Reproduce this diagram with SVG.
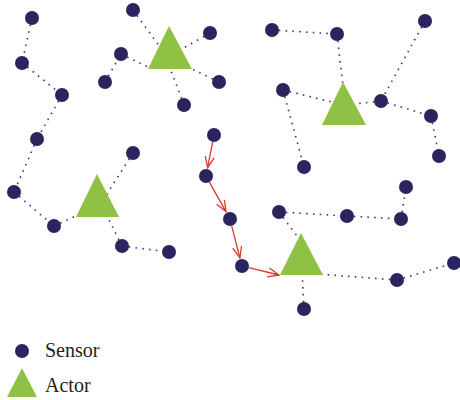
<svg xmlns="http://www.w3.org/2000/svg" width="460" height="400" viewBox="0 0 460 400">
<defs>
<style>
.dot{fill:none;stroke:#3d3a78;stroke-width:1.6;stroke-dasharray:1.6 5.2}
.arr{fill:none;stroke:#d63a2e;stroke-width:1.3;marker-end:url(#ah)}
.s{fill:#2a255f}
.a{fill:#8fc144}
.lbl{font-family:"Liberation Serif","Times New Roman",serif;font-size:20px;fill:#231f20}
</style>
<marker id="ah" markerUnits="userSpaceOnUse" markerWidth="14" markerHeight="12" refX="12" refY="6" orient="auto" viewBox="0 0 14 12">
<path d="M1,1.5 L12,6 L1,10.5" fill="none" stroke="#d63a2e" stroke-width="1.3"/>
</marker>
</defs>
<rect width="460" height="400" fill="#fff"/>
<g id="connectors">
<line class="dot" x1="32" y1="18" x2="22" y2="63"/>
<line class="dot" x1="22" y1="63" x2="62" y2="95"/>
<line class="dot" x1="62" y1="95" x2="37" y2="139"/>
<line class="dot" x1="37" y1="139" x2="14" y2="192"/>
<line class="dot" x1="14" y1="192" x2="54" y2="226"/>
<line class="dot" x1="54" y1="226" x2="80" y2="214"/>
<line class="dot" x1="133" y1="153" x2="105" y2="197"/>
<line class="dot" x1="122" y1="246" x2="105" y2="212"/>
<line class="dot" x1="122" y1="246" x2="169" y2="252"/>
<line class="dot" x1="133" y1="10" x2="160" y2="47"/>
<line class="dot" x1="121" y1="54" x2="150" y2="68"/>
<line class="dot" x1="105" y1="82" x2="121" y2="54"/>
<line class="dot" x1="210" y1="33" x2="180" y2="50"/>
<line class="dot" x1="219" y1="82" x2="190" y2="68"/>
<line class="dot" x1="184" y1="105" x2="170" y2="68"/>
<line class="dot" x1="272" y1="30" x2="337" y2="34"/>
<line class="dot" x1="337" y1="34" x2="343" y2="86"/>
<line class="dot" x1="425" y1="21" x2="381" y2="101"/>
<line class="dot" x1="283" y1="90" x2="336" y2="103"/>
<line class="dot" x1="381" y1="101" x2="355" y2="104"/>
<line class="dot" x1="283" y1="90" x2="304" y2="167"/>
<line class="dot" x1="381" y1="101" x2="431" y2="116"/>
<line class="dot" x1="431" y1="116" x2="439" y2="156"/>
<line class="dot" x1="279" y1="212" x2="347" y2="216"/>
<line class="dot" x1="347" y1="216" x2="401" y2="219"/>
<line class="dot" x1="401" y1="219" x2="406" y2="187"/>
<line class="dot" x1="279" y1="212" x2="300" y2="240"/>
<line class="dot" x1="397" y1="280" x2="318" y2="274"/>
<line class="dot" x1="397" y1="280" x2="454" y2="263"/>
<line class="dot" x1="304" y1="309" x2="302" y2="270"/>
<line class="arr" x1="212.7" y1="141.9" x2="207.6" y2="167.7"/>
<line class="arr" x1="209.4" y1="182.1" x2="225.9" y2="211.6"/>
<line class="arr" x1="231.7" y1="225.8" x2="239.9" y2="257.8"/>
<line class="arr" x1="248.8" y1="267.7" x2="279" y2="275"/>
</g>
<g id="actor1"><polygon class="a" points="169,26 148,69 192,69"/></g>
<g id="actor2"><polygon class="a" points="343,82 322,125 366,125"/></g>
<g id="actor3"><polygon class="a" points="97,174 76,217 119,217"/></g>
<g id="actor4"><polygon class="a" points="301,233 280,275 323,275"/></g>
<g id="s1"><circle class="s" cx="32" cy="18" r="7"/></g>
<g id="s2"><circle class="s" cx="22" cy="63" r="7"/></g>
<g id="s3"><circle class="s" cx="62" cy="95" r="7"/></g>
<g id="s4"><circle class="s" cx="37" cy="139" r="7"/></g>
<g id="s5"><circle class="s" cx="14" cy="192" r="7"/></g>
<g id="s6"><circle class="s" cx="54" cy="226" r="7"/></g>
<g id="s7"><circle class="s" cx="133" cy="10" r="7"/></g>
<g id="s8"><circle class="s" cx="121" cy="54" r="7"/></g>
<g id="s9"><circle class="s" cx="105" cy="82" r="7"/></g>
<g id="s10"><circle class="s" cx="210" cy="33" r="7"/></g>
<g id="s11"><circle class="s" cx="219" cy="82" r="7"/></g>
<g id="s12"><circle class="s" cx="184" cy="105" r="7"/></g>
<g id="s13"><circle class="s" cx="133" cy="153" r="7"/></g>
<g id="s14"><circle class="s" cx="122" cy="246" r="7"/></g>
<g id="s15"><circle class="s" cx="169" cy="252" r="7"/></g>
<g id="s16"><circle class="s" cx="214" cy="135" r="7"/></g>
<g id="s17"><circle class="s" cx="206" cy="176" r="7"/></g>
<g id="s18"><circle class="s" cx="230" cy="219" r="7"/></g>
<g id="s19"><circle class="s" cx="242" cy="266" r="7"/></g>
<g id="s20"><circle class="s" cx="272" cy="30" r="7"/></g>
<g id="s21"><circle class="s" cx="337" cy="34" r="7"/></g>
<g id="s22"><circle class="s" cx="425" cy="21" r="7"/></g>
<g id="s23"><circle class="s" cx="283" cy="90" r="7"/></g>
<g id="s24"><circle class="s" cx="381" cy="101" r="7"/></g>
<g id="s25"><circle class="s" cx="431" cy="116" r="7"/></g>
<g id="s26"><circle class="s" cx="439" cy="156" r="7"/></g>
<g id="s27"><circle class="s" cx="304" cy="167" r="7"/></g>
<g id="s28"><circle class="s" cx="406" cy="187" r="7"/></g>
<g id="s29"><circle class="s" cx="279" cy="212" r="7"/></g>
<g id="s30"><circle class="s" cx="347" cy="216" r="7"/></g>
<g id="s31"><circle class="s" cx="401" cy="219" r="7"/></g>
<g id="s32"><circle class="s" cx="397" cy="280" r="7"/></g>
<g id="s33"><circle class="s" cx="454" cy="263" r="7"/></g>
<g id="s34"><circle class="s" cx="304" cy="309" r="7"/></g>
<g id="legend">
<circle class="s" cx="22" cy="351" r="7"/>
<text class="lbl" x="45" y="357">Sensor</text>
<polygon class="a" points="22,368 7,397 37,397"/>
<text class="lbl" x="45" y="392">Actor</text>
</g>
</svg>
